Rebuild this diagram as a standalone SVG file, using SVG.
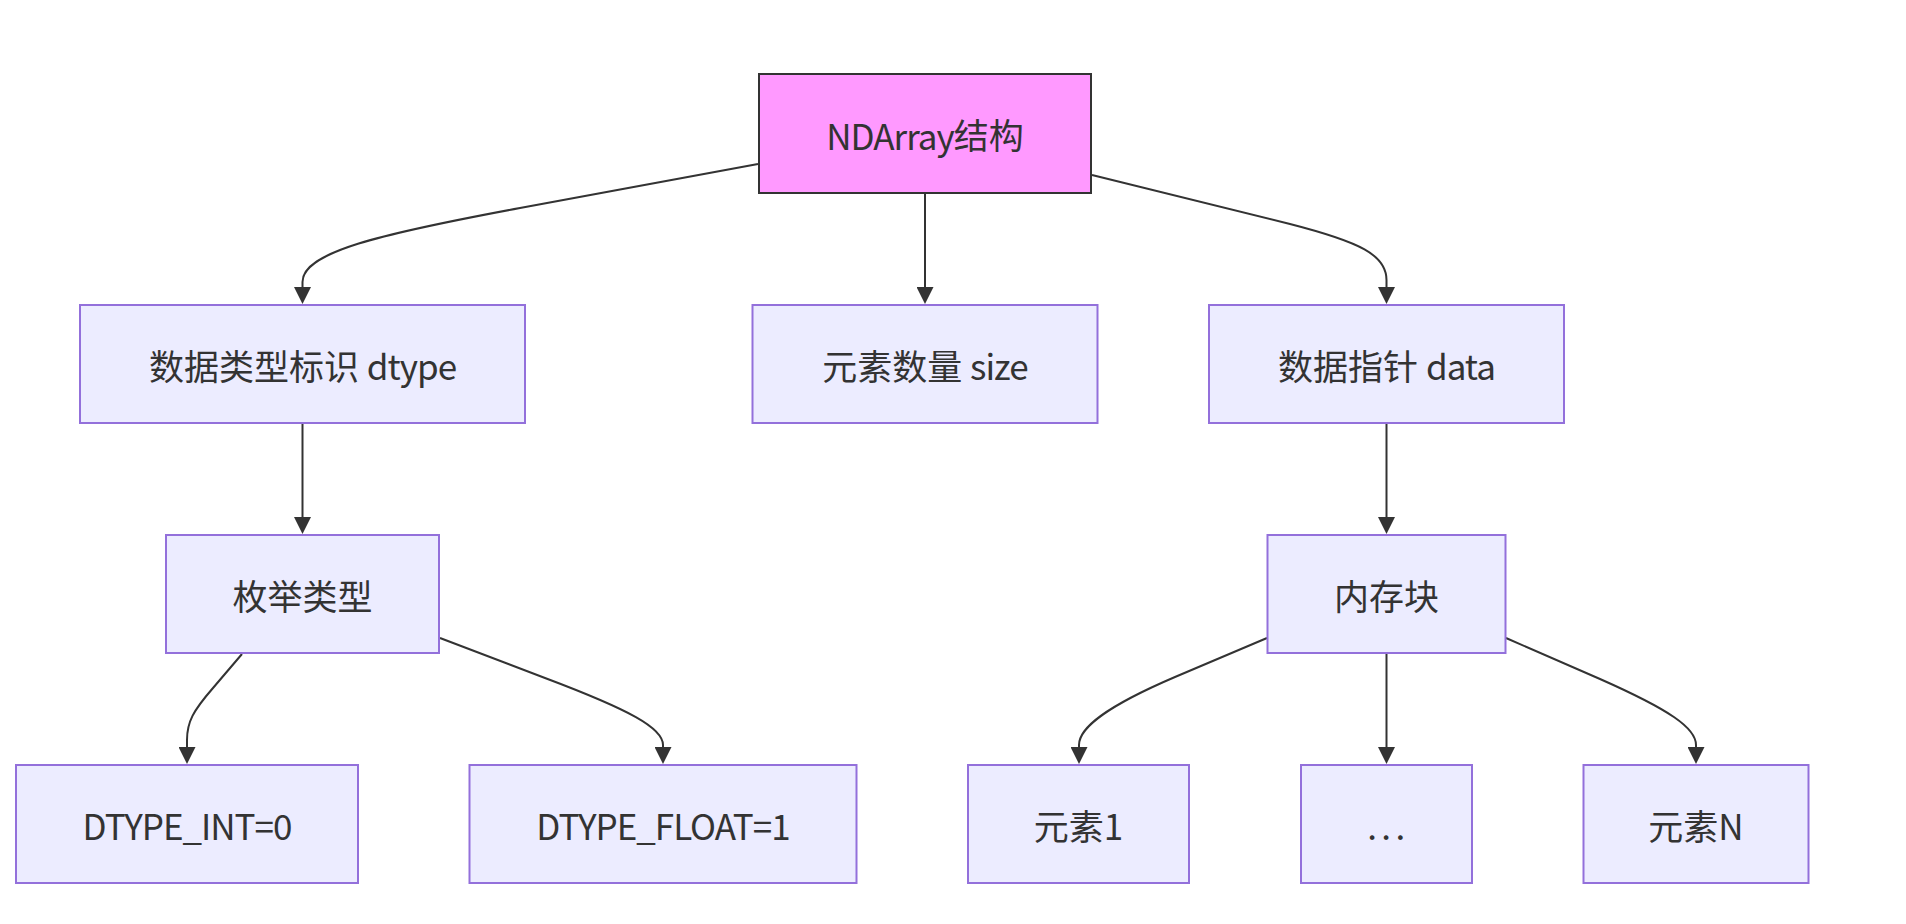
<svg xmlns="http://www.w3.org/2000/svg" width="1906" height="924" viewBox="0 0 1906 924">
<style>
.node rect{fill:#ECECFF;stroke:#9370DB;stroke-width:2}
.node.root rect{fill:#FF99FF;stroke:#333333;stroke-width:2}
.node text{font-family:"Noto Sans CJK SC","Noto Sans",sans-serif;font-size:35px;fill:#333333;text-anchor:middle;dominant-baseline:central}
.lat{letter-spacing:-1px}
.dots{letter-spacing:4.5px}
.edges path{fill:none;stroke:#333333;stroke-width:2;marker-end:url(#arrow)}
</style>
<defs>
<marker id="arrow" viewBox="0 0 10 10" refX="5.3" refY="5" markerWidth="17" markerHeight="17" markerUnits="userSpaceOnUse" orient="auto">
<path d="M0,0 L10,5 L0,10 z" fill="#333333"/>
</marker>
</defs>
<rect width="1906" height="924" fill="#ffffff"/>
<g class="edges">
<path d="M758,164 L520,208 C380,234 302.5,252 302.5,282 L302.5,296"/>
<path d="M925,194 L925,296"/>
<path d="M1092,175 L1290,224 C1360,242 1386.5,255 1386.5,280 L1386.5,296"/>
<path d="M302.5,423 L302.5,526"/>
<path d="M1386.5,423 L1386.5,526"/>
<path d="M242,654 L213,688 C193,711 187,722 187,740 L187,756"/>
<path d="M440,638 L545,678 C630,710 663,728 663,745 L663,756"/>
<path d="M1267,638 L1175,677 C1105,707 1079,728 1079,745 L1079,756"/>
<path d="M1386.5,653 L1386.5,756"/>
<path d="M1506,638 L1600,679 C1670,710 1696,728 1696,745 L1696,756"/>
</g>
<g id="root" class="node root"><rect x="759" y="74" width="332" height="119"/><text x="925" y="133.5"><tspan class="lat">NDArray</tspan>结构</text></g>
<g id="dtype" class="node"><rect x="80" y="305" width="445" height="118"/><text x="302.5" y="364">数据类型标识 <tspan class="lat">dtype</tspan></text></g>
<g id="size" class="node"><rect x="752.5" y="305" width="345" height="118"/><text x="925" y="364">元素数量 <tspan class="lat">size</tspan></text></g>
<g id="data" class="node"><rect x="1209" y="305" width="355" height="118"/><text x="1386.5" y="364">数据指针 <tspan class="lat">data</tspan></text></g>
<g id="enum" class="node"><rect x="166" y="535" width="273" height="118"/><text x="302.5" y="594">枚举类型</text></g>
<g id="mem" class="node"><rect x="1267.5" y="535" width="238" height="118"/><text x="1386.5" y="594">内存块</text></g>
<g id="int" class="node"><rect x="16" y="765" width="342" height="118"/><text x="187" y="824" class="lat">DTYPE_INT=0</text></g>
<g id="float" class="node"><rect x="469.5" y="765" width="387" height="118"/><text x="663" y="824" class="lat">DTYPE_FLOAT=1</text></g>
<g id="e1" class="node"><rect x="968" y="765" width="221" height="118"/><text x="1078.5" y="824">元素1</text></g>
<g id="dots" class="node"><rect x="1301" y="765" width="171" height="118"/><text x="1388.5" y="824" class="dots">...</text></g>
<g id="eN" class="node"><rect x="1583.5" y="765" width="225" height="118"/><text x="1696" y="824">元素N</text></g>
</svg>
